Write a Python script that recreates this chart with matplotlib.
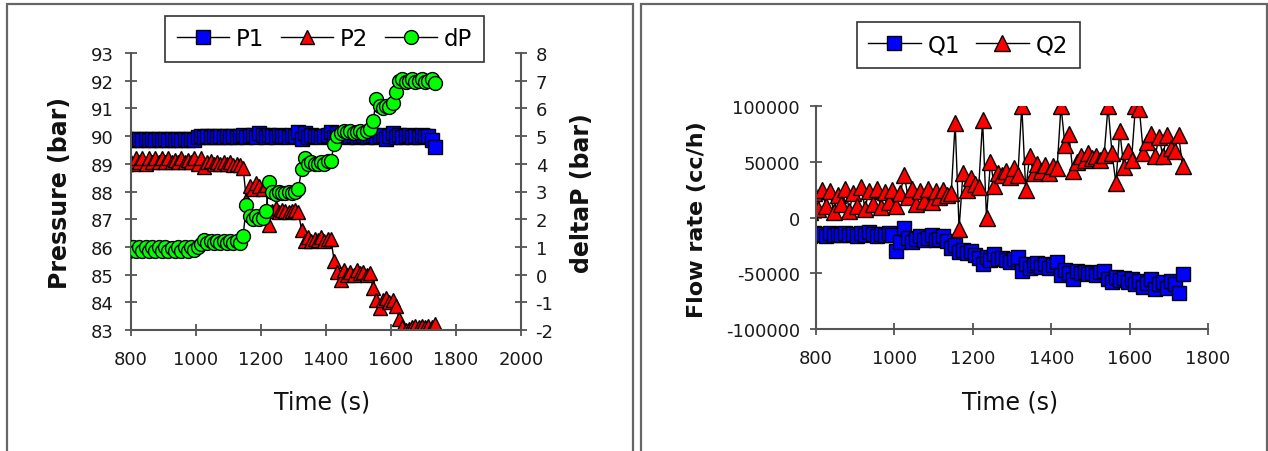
import matplotlib
matplotlib.use("Agg")
import matplotlib.pyplot as plt
from matplotlib.patches import Rectangle

plt.rcParams['font.family'] = ['DejaVu Sans']
plt.rcParams['axes.unicode_minus'] = False

# ---------------- data ----------------
time_s = [775, 785, 795, 805, 815, 825, 835, 845, 855, 865,
          875, 885, 895, 905, 915, 925, 935, 945, 955, 965,
          975, 985, 995, 1005, 1015, 1025, 1035, 1045, 1055, 1065,
          1075, 1085, 1095, 1105, 1115, 1125, 1135, 1145, 1155, 1165,
          1175, 1185, 1195, 1205, 1215, 1225, 1235, 1245, 1255, 1265,
          1275, 1285, 1295, 1305, 1315, 1325, 1335, 1345, 1355, 1365,
          1375, 1385, 1395, 1405, 1415, 1425, 1435, 1445, 1455, 1465,
          1475, 1485, 1495, 1505, 1515, 1525, 1535, 1545, 1555, 1565,
          1575, 1585, 1595, 1605, 1615, 1625, 1635, 1645, 1655, 1665,
          1675, 1685, 1695, 1705, 1715, 1725, 1735]

P1 = [89.85, 89.9, 89.85, 89.9, 89.85, 89.9, 89.85, 89.9, 89.85, 89.9,
      89.85, 89.9, 89.85, 89.9, 89.85, 89.9, 89.85, 89.9, 89.85, 89.9,
      89.85, 89.9, 89.85, 89.95, 90.0, 89.95, 90.0, 89.95, 90.0, 89.95,
      90.0, 89.95, 90.0, 89.95, 90.0, 89.95, 90.0, 90.05, 89.95, 90.0,
      90.05, 89.95, 90.1, 90.05, 89.95, 90.05, 90.0, 89.95, 90.05, 90.0,
      90.0, 89.95, 90.05, 90.0, 90.15, 89.9, 90.1, 89.95, 90.05, 90.0,
      90.0, 89.95, 90.0, 90.05, 90.15, 89.95, 90.1, 90.0, 90.05, 89.95,
      90.0, 90.05, 89.95, 90.0, 90.05, 89.95, 90.0, 90.05, 89.95, 90.0,
      90.05, 89.9, 90.0, 90.1, 89.95, 90.05, 89.95, 90.0, 90.05, 89.95,
      90.0, 89.95, 90.05, 90.0, 90.0, 89.85, 89.6]

P2 = [89.3, 89.0, 89.2, 89.0, 89.2, 89.05, 89.2, 89.0, 89.2, 89.05,
      89.2, 89.05, 89.2, 89.05, 89.2, 89.05, 89.15, 89.05, 89.2, 89.05,
      89.15, 89.05, 89.2, 89.0, 89.2, 88.9, 89.05, 89.1, 89.0, 89.05,
      89.0, 89.05, 89.0, 89.05, 88.95, 89.0, 88.95, 88.85, 87.7, 88.2,
      88.1, 88.3, 88.2, 88.1, 88.25, 86.8, 87.3, 87.4, 87.25, 87.35,
      87.3, 87.25, 87.3, 87.35, 87.25, 86.6, 86.2, 86.35, 86.2, 86.3,
      86.25, 86.35, 86.2, 86.3, 86.3, 85.5, 85.1, 84.8, 85.15, 85.0,
      85.1, 85.0, 85.15, 85.05, 85.1, 85.0, 85.05, 84.5, 84.1, 83.8,
      84.1, 84.15, 84.0, 84.1, 83.85, 83.4, 83.1, 83.0, 83.05, 83.1,
      83.15, 83.1, 83.15, 83.1, 83.15, 83.1, 83.2]

dP = [0.8, 1.0, 0.85, 1.0, 0.85, 1.0, 0.85, 1.0, 0.85, 1.0,
      0.85, 1.0, 0.85, 1.0, 0.85, 0.95, 0.85, 1.0, 0.85, 1.0,
      0.85, 1.0, 0.9, 1.0, 1.1, 1.25, 1.15, 1.2, 1.15, 1.2,
      1.15, 1.2, 1.15, 1.2, 1.15, 1.2, 1.15, 1.4, 2.5, 2.1,
      2.0, 2.1, 2.0, 2.05, 2.3, 3.35, 3.0, 2.9, 3.0, 2.95,
      2.95, 3.0, 2.95, 3.0, 3.1, 3.8, 4.2, 4.0, 4.05, 4.0,
      4.0, 4.05, 4.0, 4.1, 4.1, 4.7, 5.0, 5.1, 5.2, 5.15,
      5.2, 5.1, 5.15, 5.2, 5.1, 5.2, 5.25, 5.55, 6.35, 6.1,
      6.0, 6.1, 6.05, 6.2, 6.6, 7.0, 7.05, 6.95, 7.0, 7.05,
      6.95, 7.0, 7.05, 6.95, 7.0, 7.05, 6.9]

Q1 = [-15000, -17000, -14000, -16000, -15000, -17000, -14000, -16000, -15000, -16000,
      -14000, -16000, -15000, -17000, -14000, -16000, -13000, -15000, -17000, -15000,
      -16000, -14000, -16000, -30000, -22000, -9000, -18000, -22000, -19000, -17000,
      -20000, -18000, -16000, -20000, -19000, -17000, -21000, -27000, -25000, -31000,
      -29000, -32000, -30000, -34000, -36000, -42000, -35000, -38000, -33000, -37000,
      -36000, -38000, -40000, -37000, -35000, -48000, -42000, -45000, -43000, -41000,
      -44000, -42000, -45000, -43000, -40000, -52000, -47000, -50000, -55000, -48000,
      -50000, -49000, -51000, -50000, -52000, -49000, -48000, -55000, -58000, -53000,
      -56000, -54000, -58000, -55000, -60000, -57000, -62000, -59000, -55000, -64000,
      -60000, -58000, -63000, -57000, -60000, -68000, -51000]

Q2 = [35000, 5000, 22000, 8000, 25000, 10000, 24000, 5000, 20000, 12000,
      26000, 6000, 22000, 10000, 27000, 8000, 24000, 12000, 26000, 9000,
      23000, 14000, 25000, 10000, 22000, 38000, 18000, 26000, 12000, 24000,
      15000, 26000, 14000, 24000, 18000, 25000, 20000, 22000, 85000, -10000,
      40000, 25000, 35000, 30000, 27000, 87000, 0, 50000, 28000, 40000,
      38000, 42000, 36000, 44000, 38000, 100000, 25000, 55000, 40000, 48000,
      42000, 47000, 40000, 46000, 44000, 100000, 65000, 75000, 42000, 50000,
      55000, 52000, 58000, 53000, 55000, 52000, 56000, 100000, 58000, 31000,
      78000, 45000, 60000, 52000, 100000, 97000, 58000, 68000, 75000, 55000,
      72000, 55000, 74000, 62000, 60000, 74000, 46000]

left_xticks = [800, 1000, 1200, 1400, 1600, 1800, 2000]
left_yticks = [83, 84, 85, 86, 87, 88, 89, 90, 91, 92, 93]
right2_yticks = [-2, -1, 0, 1, 2, 3, 4, 5, 6, 7, 8]
flow_xticks = [800, 1000, 1200, 1400, 1600, 1800]
flow_yticks = [-100000, -50000, 0, 50000, 100000]

# ---------------- figure ----------------
W, H = 1268, 452
fig = plt.figure(figsize=(W / 100, H / 100), dpi=100)
fig.patch.set_facecolor('white')

def fx(px):
    return px / W

def fy(py):
    return 1 - py / H

# panel borders
for x0, x1 in [(7, 633), (641, 1266.5)]:
    fig.patches.append(Rectangle((fx(x0), -0.1), fx(x1) - fx(x0), fy(5) + 0.1,
                                 transform=fig.transFigure, fill=False,
                                 edgecolor='#666666', linewidth=1.6, zorder=0))

AX_COL = '#555555'
TICK_KW = dict(direction='inout', length=9, width=1.3, color=AX_COL,
               labelsize=13, labelcolor='#1a1a1a')
line_kw = dict(color='black', linewidth=1.0, markeredgecolor='black',
               markeredgewidth=1.0)

# ---- left chart ----
ax1 = fig.add_axes([fx(131), fy(331), fx(521) - fx(131), fy(54) - fy(331)])
ax1.set_xlim(800, 2000)
ax1.set_ylim(83, 93)
l1, = ax1.plot(time_s, P1, marker='s', markersize=9.5, markerfacecolor='#0000FF',
               label='P1', **line_kw)
l2, = ax1.plot(time_s, P2, marker='^', markersize=10.5, markerfacecolor='#FF0000',
               label='P2', **line_kw)
ax2 = ax1.twinx()
ax2.set_ylim(-2, 8)
l3, = ax2.plot(time_s, dP, marker='o', markersize=10, markerfacecolor='#00FF00',
               label='dP', **line_kw)

ax1.set_xticks(left_xticks)
ax1.set_yticks(left_yticks)
ax2.set_yticks(right2_yticks)
ax1.tick_params(axis='x', pad=10, **TICK_KW)
ax1.tick_params(axis='y', pad=8, **TICK_KW)
ax2.tick_params(axis='y', pad=6, **TICK_KW)
for s in ['top', 'right']:
    ax1.spines[s].set_visible(False)
for s in ['top', 'left', 'bottom']:
    ax2.spines[s].set_visible(False)
for ax, sides in [(ax1, ['left', 'bottom']), (ax2, ['right'])]:
    for s in sides:
        ax.spines[s].set_color(AX_COL)
        ax.spines[s].set_linewidth(1.5)
ax1.patch.set_alpha(0)

leg1 = fig.legend([l1, l2, l3], ['P1', 'P2', 'dP'], loc='center',
                  bbox_to_anchor=(fx(324.5), fy(40)), ncol=3, frameon=True,
                  fancybox=False, edgecolor='#333333', fontsize=16.5,
                  handlelength=2.3, handletextpad=0.3, columnspacing=0.7,
                  borderpad=0.5, framealpha=1)
leg1.get_frame().set_linewidth(1.2)

fig.text(fx(60), fy(193), 'Pressure (bar)', rotation=90, ha='center', va='center',
         fontsize=17, fontweight='bold', color='#111111')
fig.text(fx(582), fy(193), 'deltaP (bar)', rotation=90, ha='center', va='center',
         fontsize=17, fontweight='bold', color='#111111')
fig.text(fx(322), fy(403), 'Time (s)', ha='center', va='center', fontsize=17,
         color='#111111')

# ---- right chart ----
ax3 = fig.add_axes([fx(816), fy(330), fx(1208) - fx(816), fy(107) - fy(330)])
ax3.set_xlim(800, 1800)
ax3.set_ylim(-100000, 100000)
q1, = ax3.plot(time_s, Q1, marker='s', markersize=10, markerfacecolor='#0000FF',
               label='Q1', **line_kw)
q2, = ax3.plot(time_s, Q2, marker='^', markersize=11, markerfacecolor='#FF0000',
               label='Q2', **line_kw)
ax3.set_xticks(flow_xticks)
ax3.set_yticks(flow_yticks)
ax3.set_yticklabels([str(v) for v in flow_yticks])
ax3.tick_params(axis='x', pad=10, **TICK_KW)
ax3.tick_params(axis='y', pad=7, **TICK_KW)
for s in ['top', 'right']:
    ax3.spines[s].set_visible(False)
for s in ['left', 'bottom']:
    ax3.spines[s].set_color(AX_COL)
    ax3.spines[s].set_linewidth(1.5)

leg2 = fig.legend([q1, q2], ['Q1', 'Q2'], loc='center',
                  bbox_to_anchor=(fx(968), fy(46)), ncol=2, frameon=True,
                  fancybox=False, edgecolor='#333333', fontsize=16.5,
                  handlelength=2.3, handletextpad=0.3, columnspacing=0.7,
                  borderpad=0.5, framealpha=1)
leg2.get_frame().set_linewidth(1.2)

fig.text(fx(697), fy(220), 'Flow rate (cc/h)', rotation=90, ha='center', va='center',
         fontsize=16, fontweight='bold', color='#111111')
fig.text(fx(1010), fy(403), 'Time (s)', ha='center', va='center', fontsize=17,
         color='#111111')

fig.savefig('out.png', dpi=100, facecolor='white')
